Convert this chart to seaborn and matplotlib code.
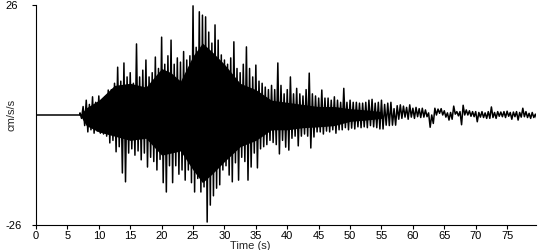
import numpy as np
import pandas as pd
import matplotlib
matplotlib.use("Agg")
import matplotlib.pyplot as plt
import seaborn as sns

# ---------------- data ----------------
quiet_times = [0.0, 7.0]          # pre-event flat segment (s)
quiet_values = [0.0, 0.0]
env_start = 7.0                   # first sampled time of the shaking (s)
env_step = 0.5                    # spacing of the sampled peaks (s)

# positive swings (cm/s/s), one every env_step seconds
upper = [
    0.5, 2.0, 3.5, 2.5, 4.3, 3.0, 4.5, 3.2, 4.3, 5.9,          # 7.0-11.5
    6.0, 7.5, 11.3, 8.0, 12.3, 9.0, 10.0, 7.5, 16.8, 9.0,      # 12.0-16.5
    10.6, 13.0, 9.0, 10.0, 13.7, 11.0, 18.4, 12.0, 14.0, 17.7, # 17.0-21.5
    12.0, 13.5, 12.5, 15.0, 13.0, 14.0, 25.8, 16.0, 24.4, 23.6,# 22.0-26.5
    23.2, 19.6, 17.0, 21.3, 17.7, 14.2, 13.0, 12.0, 13.5, 17.3,# 27.0-31.5
    11.0, 10.0, 12.0, 16.1, 11.0, 9.0, 11.8, 8.0, 7.5, 6.6,    # 32.0-36.5
    6.0, 7.0, 6.0, 12.3, 7.0, 5.0, 6.0, 9.0, 5.0, 6.3,         # 37.0-41.5
    5.0, 4.5, 6.0, 9.9, 5.0, 4.5, 4.0, 5.9, 4.0, 4.0,          # 42.0-46.5
    3.5, 4.3, 3.5, 3.0, 6.3, 3.0, 3.5, 3.0, 3.0, 2.8,          # 47.0-51.5
    2.8, 3.0, 3.5, 3.7, 2.8, 3.0, 3.5, 2.5, 2.8, 3.0,          # 52.0-56.5
    1.5, 2.2, 2.4, 2.1, 1.8, 2.4, 1.6, 1.8, 1.5, 1.6,          # 57.0-61.5
    1.2, 0.5, 0.0, 1.6, 1.4, 1.5, 1.0, 0.5, 0.6, 2.1,          # 62.0-66.5
    0.8, 0.8, 2.3, 1.2, 1.0, 0.8, 0.8, 0.6, 0.8, 0.5,          # 67.0-71.5
    0.8, 1.9, 0.6, 0.8, 0.7, 0.8, 0.9, 0.6, 0.7, 0.8,          # 72.0-76.5
    0.6, 1.6, 0.8, 0.4, 0.6, 0.2,                              # 77.0-79.5
]
# negative swings (cm/s/s), half a step after each positive one
lower = [
    -0.8, -2.5, -4.0, -3.5, -4.3, -3.8, -4.3, -4.5, -5.0, -6.6,
    -6.0, -8.7, -7.5, -13.7, -15.8, -9.0, -8.0, -9.5, -8.5, -10.6,
    -9.0, -12.3, -10.0, -11.0, -13.0, -10.5, -16.0, -18.2, -12.0, -16.0,
    -12.0, -14.0, -13.0, -15.4, -13.0, -16.0, -18.2, -15.0, -18.2, -17.0,
    -25.3, -21.3, -19.1, -17.3, -16.5, -13.0, -12.0, -14.2, -15.8, -11.3,
    -15.4, -10.0, -11.0, -15.4, -12.3, -9.0, -12.5, -8.0, -7.5, -7.0,
    -6.0, -6.5, -7.0, -9.2, -6.0, -7.6, -8.3, -5.5, -5.0, -7.3,
    -5.0, -4.5, -5.0, -7.8, -5.2, -4.0, -4.0, -4.5, -3.8, -4.0,
    -3.5, -4.3, -3.5, -3.5, -3.0, -3.5, -3.1, -3.3, -2.8, -3.0,
    -2.8, -3.0, -2.5, -2.8, -3.0, -3.3, -3.3, -2.4, -2.5, -2.4,
    -2.4, -1.0, -0.8, -0.5, -1.0, -0.5, -0.8, -0.4, -0.6, -0.5,
    -0.4, -2.9, -2.0, 0.0, 0.4, 0.0, -0.5, -1.2, -1.0, 0.2,
    -0.2, -2.3, 0.0, 0.0, -0.3, -0.4, -1.6, -0.5, -0.6, -0.8,
    -0.8, -0.6, -0.8, -0.3, -0.4, -0.6, -0.3, -1.0, -0.4, -1.2,
    -0.5, -0.4, -0.6, -0.8, -0.6, -1.0,
]

# extent of the solid black core of the trace (cm/s/s)
core_times = [7.0, 8.0, 10.0, 12.5, 15.0, 17.5, 20.0, 21.5, 23.0, 25.0,
              26.5, 28.0, 30.0, 32.5, 35.0, 37.5, 40.0, 42.5, 45.0, 47.5,
              50.0, 52.5, 55.0]
core_upper = [0.0, 1.7, 3.5, 7.0, 7.5, 6.6, 11.0, 10.0, 8.0, 14.0,
              17.0, 15.0, 12.0, 7.5, 6.0, 3.5, 3.0, 2.5, 2.0, 2.0,
              1.5, 1.2, 0.8]
core_lower = [0.0, -2.5, -4.0, -5.0, -6.0, -5.5, -9.5, -9.0, -8.5, -13.0,
              -16.0, -14.0, -11.0, -7.5, -6.0, -3.5, -3.5, -3.0, -2.8, -2.5,
              -1.5, -1.2, -0.8]

x_ticks = list(range(0, 80, 5))
y_ticks = [-26, 26]
y_tick_labels = ["-26", "26"]
x_label = "Time (s)"
y_label = "cm/s/s"

# ---------------- build trace ----------------
n = len(upper)
t_up = env_start + env_step * np.arange(n)
t_lo = t_up + env_step / 2
t_wave = np.empty(2 * n); v_wave = np.empty(2 * n)
t_wave[0::2] = t_up; v_wave[0::2] = upper
t_wave[1::2] = t_lo; v_wave[1::2] = lower
df = pd.DataFrame({
    "t": np.concatenate([quiet_times, t_wave]),
    "v": np.concatenate([quiet_values, v_wave]),
})

# ---------------- plot ----------------
sns.set_style("ticks")
plt.rcParams["font.family"] = ["Liberation Sans", "DejaVu Sans"]
fig = plt.figure(figsize=(5.5, 2.5), dpi=100)
ax = fig.add_axes([36 / 550, 25 / 250, 500 / 550, 220 / 250])
ax.fill_between(core_times, core_lower, core_upper, color="black",
                linewidth=0)
sns.lineplot(data=df, x="t", y="v", sort=False, estimator=None,
             color="black", linewidth=1.1, ax=ax)

ax.set_xlim(0, 79.6)
ax.set_ylim(-26, 26)
ax.set_xticks(x_ticks)
ax.set_yticks(y_ticks)
ax.set_yticklabels(y_tick_labels)
ax.tick_params(axis="both", labelsize=8, length=3, width=0.8, pad=1,
               colors="black")
for lab in ax.get_yticklabels():
    lab.set_horizontalalignment("left")
ax.tick_params(axis="y", pad=19)
sns.despine(ax=ax)
for s in ("left", "bottom"):
    ax.spines[s].set_linewidth(0.8)
    ax.spines[s].set_color("black")
ax.set_xlabel(x_label, fontsize=8, labelpad=0)
ax.xaxis.set_label_coords((250 - 36) / 500, -0.072)
ax.set_ylabel(y_label, fontsize=8, labelpad=0)
ax.yaxis.set_label_coords(-0.038, 0.5)

fig.savefig("out.png", dpi=100)
